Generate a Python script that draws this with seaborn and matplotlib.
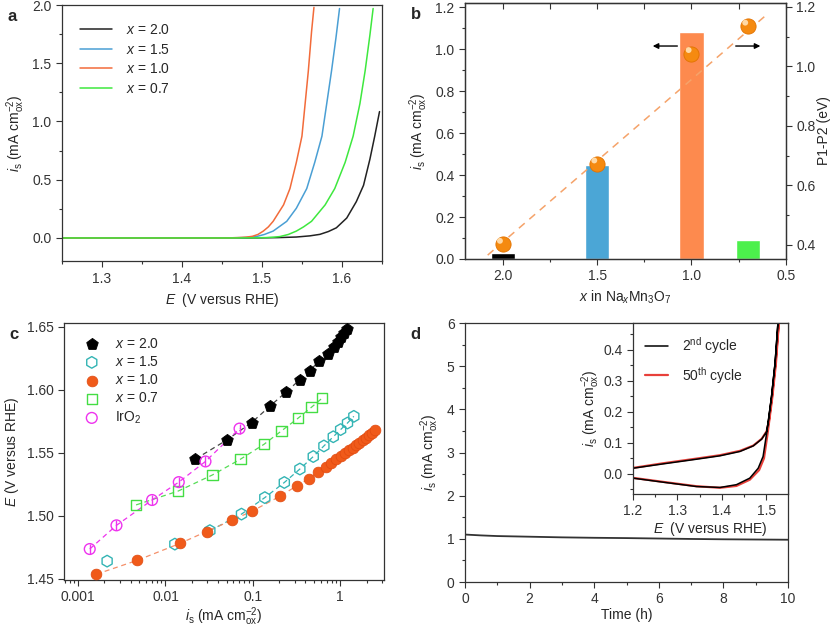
import numpy as np
import pandas as pd
import matplotlib
matplotlib.use('Agg')
import matplotlib.pyplot as plt
from matplotlib.ticker import MultipleLocator
import seaborn as sns

# ---- panel a: LSV curves ----
E_x20 = [1.25, 1.48, 1.50, 1.52, 1.543, 1.56, 1.5725, 1.583, 1.593, 1.606, 1.618, 1.627, 1.635, 1.641, 1.647]
i_x20 = [0.0, 0.0, 0.001, 0.003, 0.008, 0.018, 0.031, 0.055, 0.087, 0.171, 0.312, 0.452, 0.677, 0.874, 1.085]
E_x15 = [1.25, 1.44, 1.46, 1.475, 1.485, 1.493, 1.503, 1.514, 1.531, 1.543, 1.556, 1.566, 1.575, 1.581, 1.587, 1.5925, 1.597]
i_x15 = [0.0, 0.0, 0.001, 0.003, 0.006, 0.012, 0.030, 0.059, 0.143, 0.255, 0.424, 0.649, 0.874, 1.154, 1.435, 1.717, 1.97]
E_x10 = [1.25, 1.44, 1.46, 1.47, 1.48, 1.488, 1.495, 1.5017, 1.508, 1.514, 1.527, 1.535, 1.543, 1.550, 1.554, 1.558, 1.562, 1.565]
i_x10 = [0.0, 0.0, 0.001, 0.003, 0.007, 0.014, 0.030, 0.059, 0.095, 0.143, 0.284, 0.424, 0.649, 0.874, 1.154, 1.435, 1.77, 1.98]
E_x07 = [1.25, 1.46, 1.49, 1.505, 1.515, 1.5225, 1.533, 1.543, 1.552, 1.562, 1.579, 1.591, 1.604, 1.614, 1.6225, 1.629, 1.635, 1.639]
i_x07 = [0.0, 0.0, 0.001, 0.003, 0.007, 0.012, 0.030, 0.059, 0.095, 0.143, 0.284, 0.424, 0.649, 0.874, 1.154, 1.435, 1.744, 1.97]

# ---- panel b ----
x_na = [2.0, 1.5, 1.0, 0.7]
i_bar = [0.03, 0.45, 1.08, 0.09]
gap_eV = [0.402, 0.672, 1.043, 1.135]
fit_b_x = [2.08, 0.59]
fit_b_y = [0.366, 1.18]

# ---- panel c: Tafel ----
c_is_20 = [0.022, 0.050, 0.097, 0.157, 0.238, 0.345, 0.446, 0.575, 0.716, 0.853, 0.931, 1.01, 1.09, 1.18]
c_E_20 = [1.545, 1.560, 1.574, 1.587, 1.598, 1.608, 1.615, 1.623, 1.628, 1.634, 1.638, 1.642, 1.645, 1.648]
c_is_15 = [0.00215, 0.0128, 0.0322, 0.0741, 0.137, 0.229, 0.345, 0.491, 0.650, 0.832, 1.01, 1.21, 1.43]
c_E_15 = [1.464, 1.4775, 1.4882, 1.5013, 1.5144, 1.5264, 1.5371, 1.547, 1.5554, 1.5627, 1.5684, 1.5736, 1.5789]
c_is_10 = [0.00162, 0.00474, 0.0147, 0.0295, 0.057, 0.0983, 0.207, 0.322, 0.438, 0.560, 0.679, 0.787,
           0.900, 1.018, 1.13, 1.256, 1.383, 1.52, 1.66, 1.82, 1.97, 2.13, 2.28, 2.47]
c_E_10 = [1.4536, 1.4646, 1.4781, 1.4875, 1.4963, 1.5037, 1.5157, 1.524, 1.5295, 1.5347, 1.5384, 1.542,
          1.5449, 1.5475, 1.5499, 1.552, 1.5538, 1.5559, 1.5577, 1.5598, 1.5616, 1.5637, 1.5655, 1.5684]
c_is_07 = [0.00461, 0.01397, 0.0345, 0.0722, 0.134, 0.213, 0.330, 0.470, 0.617]
c_E_07 = [1.5086, 1.5196, 1.5324, 1.5449, 1.5567, 1.5674, 1.5775, 1.5862, 1.5932]
c_is_ir = [0.00136, 0.00275, 0.00703, 0.0142, 0.0287, 0.0704]
c_E_ir = [1.4736, 1.4924, 1.5125, 1.5267, 1.5431, 1.5692]

# ---- panel d: stability ----
t_h = [0, 0.5, 1, 2, 3, 4, 5, 6, 7, 8, 9, 10]
i_t = [1.10, 1.08, 1.065, 1.05, 1.035, 1.025, 1.018, 1.008, 0.998, 0.99, 0.985, 0.98]

# inset CV loops (closed path: lower branch up, then upper branch back)
cv2_E = [1.2, 1.268, 1.343, 1.396, 1.433, 1.463, 1.482, 1.493, 1.501, 1.512, 1.520, 1.527,
         1.520, 1.512, 1.505, 1.501, 1.490, 1.471, 1.441, 1.396, 1.343, 1.268, 1.2]
cv2_i = [-0.014, -0.027, -0.041, -0.044, -0.035, -0.014, 0.018, 0.056, 0.131, 0.249, 0.357, 0.497,
         0.357, 0.249, 0.17, 0.136, 0.112, 0.090, 0.072, 0.058, 0.047, 0.032, 0.018]
cv50_E = [1.2, 1.268, 1.343, 1.396, 1.433, 1.463, 1.484, 1.495, 1.503, 1.514, 1.522, 1.529,
          1.521, 1.513, 1.506, 1.501, 1.490, 1.471, 1.441, 1.396, 1.343, 1.268, 1.2]
cv50_i = [-0.013, -0.026, -0.040, -0.045, -0.039, -0.019, 0.012, 0.050, 0.128, 0.249, 0.357, 0.497,
          0.357, 0.249, 0.17, 0.137, 0.113, 0.091, 0.074, 0.060, 0.049, 0.034, 0.019]

sns.set_style('ticks')
plt.rcParams['font.family'] = ['Liberation Sans', 'DejaVu Sans']
plt.rcParams['mathtext.fontset'] = 'custom'
plt.rcParams['mathtext.rm'] = 'Liberation Sans'
plt.rcParams['mathtext.it'] = 'Liberation Sans:italic'
plt.rcParams['axes.edgecolor'] = '#333333'
plt.rcParams['xtick.color'] = '#333333'
plt.rcParams['ytick.color'] = '#333333'
plt.rcParams['font.size'] = 10

IS_LABEL = r'$i_{\rm s}$ (mA cm$^{-2}_{\rm ox}$)'
E_LABEL = r'$E$  (V versus RHE)'

fig = plt.figure(figsize=(8.31, 6.28), dpi=100)
ax_a = fig.add_axes([0.0746, 0.584, 0.385, 0.408])
ax_b = fig.add_axes([0.5596, 0.5876, 0.386, 0.4076])
ax_c = fig.add_axes([0.077, 0.0764, 0.385, 0.4093])
ax_d = fig.add_axes([0.5596, 0.0732, 0.3887, 0.4124])
ax_in = fig.add_axes([0.7617, 0.2134, 0.1865, 0.2723])

# ---- a ----
a_colors = ['#222222', '#4a9fd4', '#f26b3a', '#3ee83e']
a_sets = [(E_x20, i_x20, '2.0'), (E_x15, i_x15, '1.5'), (E_x10, i_x10, '1.0'), (E_x07, i_x07, '0.7')]
for (ee, ii, lab), col in zip(a_sets, a_colors):
    sns.lineplot(x=ee, y=ii, ax=ax_a, color=col, lw=1.1, label=r'$x$ = ' + lab, estimator=None, sort=False)
ax_a.set_xlim(1.25, 1.65)
ax_a.set_ylim(-0.2, 2.0)
ax_a.xaxis.set_major_locator(MultipleLocator(0.1))
ax_a.xaxis.set_minor_locator(MultipleLocator(0.05))
ax_a.yaxis.set_major_locator(MultipleLocator(0.5))
ax_a.yaxis.set_minor_locator(MultipleLocator(0.25))
ax_a.set_xlabel(E_LABEL)
ax_a.set_ylabel(IS_LABEL)
ax_a.legend(loc='upper left', frameon=False, handlelength=2.3, handletextpad=1.0,
            borderaxespad=0.9, labelspacing=0.4)

# ---- b ----
b_colors = ['#000000', '#4ba6d6', '#fd8a4e', '#4cf04c']
ax_b.bar(x_na, i_bar, width=0.13, color=b_colors, zorder=1)
ax_b.set_xlim(2.2, 0.5)
ax_b.set_ylim(0, 1.22)
ax_b.xaxis.set_major_locator(MultipleLocator(0.5))
ax_b.xaxis.set_minor_locator(MultipleLocator(0.25))
ax_b.yaxis.set_major_locator(MultipleLocator(0.2))
ax_b.yaxis.set_minor_locator(MultipleLocator(0.1))
ax_b.xaxis.set_major_formatter(matplotlib.ticker.FormatStrFormatter('%.1f'))
ax_b.yaxis.set_major_formatter(matplotlib.ticker.FormatStrFormatter('%.1f'))
ax_b.set_xlabel(r'$x$ in Na$_x$Mn$_3$O$_7$')
ax_b.set_ylabel(IS_LABEL)
sec = ax_b.secondary_xaxis('top')
sec.xaxis.set_major_locator(MultipleLocator(0.25))
sec.tick_params(direction='in', labeltop=False, length=4)
ax_b2 = ax_b.twinx()
ax_b2.set_ylim(0.353, 1.213)
ax_b2.yaxis.set_major_locator(MultipleLocator(0.2))
ax_b2.yaxis.set_minor_locator(MultipleLocator(0.1))
sns.lineplot(x=fit_b_x, y=fit_b_y, ax=ax_b2, color='#f5a36a', lw=1.1, linestyle=(0, (5, 4)),
             estimator=None, sort=False)
sns.scatterplot(x=x_na, y=gap_eV, ax=ax_b2, s=120, color='#f58a10', edgecolor='#e27200', linewidth=0.6, zorder=5)
sns.scatterplot(x=np.array(x_na) + 0.015, y=np.array(gap_eV) + 0.012, ax=ax_b2, s=18, color='#ffd9a6',
                edgecolor='none', zorder=6)
ax_b2.set_ylabel('P1-P2 (eV)', labelpad=1)
ax_b.annotate('', xy=(1.22, 1.015), xytext=(1.06, 1.015),
              arrowprops=dict(arrowstyle='-|>', color='black', lw=1, mutation_scale=8))
ax_b.annotate('', xy=(0.62, 1.015), xytext=(0.78, 1.015),
              arrowprops=dict(arrowstyle='-|>', color='black', lw=1, mutation_scale=8))

# ---- c ----
dash = (0, (4, 3))
sns.lineplot(x=c_is_20, y=c_E_20, ax=ax_c, color='#444444', lw=0.9, linestyle=dash, estimator=None, sort=False)
sns.lineplot(x=c_is_15[2:], y=c_E_15[2:], ax=ax_c, color='#33b4b4', lw=0.9, linestyle=dash, estimator=None, sort=False)
sns.lineplot(x=c_is_10, y=c_E_10, ax=ax_c, color='#f5906a', lw=0.9, linestyle=dash, estimator=None, sort=False)
sns.lineplot(x=c_is_07, y=c_E_07, ax=ax_c, color='#55dd55', lw=0.9, linestyle=dash, estimator=None, sort=False)
sns.lineplot(x=c_is_ir, y=c_E_ir, ax=ax_c, color='#ee33ee', lw=0.9, linestyle=dash, estimator=None, sort=False)
sns.scatterplot(x=c_is_20, y=c_E_20, ax=ax_c, marker='p', s=75, color='black', edgecolor='black',
                label=r'$x$ = 2.0', zorder=5)
sns.scatterplot(x=c_is_15, y=c_E_15, ax=ax_c, marker='h', s=70, facecolor='none', edgecolor='#33b4b4',
                linewidth=1.0, label=r'$x$ = 1.5', zorder=5)
sns.scatterplot(x=c_is_10, y=c_E_10, ax=ax_c, marker='o', s=60, color='#f05a1a', edgecolor='#e04a10',
                linewidth=0.5, label=r'$x$ = 1.0', zorder=5)
sns.scatterplot(x=c_is_07, y=c_E_07, ax=ax_c, marker='s', s=55, facecolor='none', edgecolor='#44dd44',
                linewidth=1.0, label=r'$x$ = 0.7', zorder=5)
sns.scatterplot(x=c_is_ir, y=c_E_ir, ax=ax_c, marker='o', s=60, facecolor='none', edgecolor='#ee33ee',
                linewidth=1.0, label=r'IrO$_2$', zorder=5)
sns.scatterplot(x=c_is_ir, y=c_E_ir, ax=ax_c, marker='|', s=50, color='#ee33ee', linewidth=1.0, zorder=5)
ax_c.set_xscale('log')
ax_c.set_xlim(0.00069, 3.16)
ax_c.set_ylim(1.449, 1.653)
ax_c.yaxis.set_major_locator(MultipleLocator(0.05))
ax_c.yaxis.set_major_formatter(matplotlib.ticker.FormatStrFormatter('%.2f'))
ax_c.set_xticks([0.001, 0.01, 0.1, 1])
ax_c.set_xticklabels(['0.001', '0.01', '0.1', '1'])
ax_c.set_xlabel(IS_LABEL, labelpad=1)
ax_c.set_ylabel(r'$E$ (V versus RHE)')
ax_c.legend(loc='upper left', frameon=False, handletextpad=0.7, labelspacing=0.3, borderaxespad=0.6)

# ---- d ----
sns.lineplot(x=t_h, y=i_t, ax=ax_d, color='#333333', lw=1.3, estimator=None, sort=False)
ax_d.set_xlim(0, 10)
ax_d.set_ylim(0, 6)
ax_d.xaxis.set_major_locator(MultipleLocator(2))
ax_d.xaxis.set_minor_locator(MultipleLocator(1))
ax_d.yaxis.set_major_locator(MultipleLocator(1))
ax_d.yaxis.set_minor_locator(MultipleLocator(0.5))
ax_d.set_xlabel('Time (h)', labelpad=1)
ax_d.set_ylabel(IS_LABEL)

sns.lineplot(x=cv50_E, y=cv50_i, ax=ax_in, color='#e8403a', lw=1.6, label=r'50$^{\rm th}$ cycle',
             estimator=None, sort=False)
sns.lineplot(x=cv2_E, y=cv2_i, ax=ax_in, color='black', lw=1.1, label=r'2$^{\rm nd}$ cycle',
             estimator=None, sort=False)
ax_in.set_xlim(1.2, 1.549)
ax_in.set_ylim(-0.065, 0.486)
ax_in.xaxis.set_major_locator(MultipleLocator(0.1))
ax_in.xaxis.set_minor_locator(MultipleLocator(0.05))
ax_in.yaxis.set_major_locator(MultipleLocator(0.1))
ax_in.yaxis.set_minor_locator(MultipleLocator(0.05))
ax_in.set_xlabel(E_LABEL, labelpad=1)
ax_in.set_ylabel(IS_LABEL, labelpad=1)
h, l = ax_in.get_legend_handles_labels()
ax_in.legend(h[::-1], l[::-1], loc='upper left', frameon=False, handlelength=1.6, handletextpad=1.0,
             labelspacing=0.6)

for ax in [ax_a, ax_b, ax_b2, ax_c, ax_d, ax_in]:
    ax.tick_params(which='major', direction='out', length=4, width=0.8)
    ax.tick_params(which='minor', direction='out', length=2.5, width=0.8)
    for sp in ax.spines.values():
        sp.set_visible(True)
        sp.set_linewidth(0.9)

for ax, lab in [(ax_a, 'a'), (ax_b, 'b'), (ax_c, 'c'), (ax_d, 'd')]:
    ax.text(-0.17, 0.985, lab, transform=ax.transAxes, fontsize=12, fontweight='bold', va='top')

fig.savefig('out.png', dpi=100)
